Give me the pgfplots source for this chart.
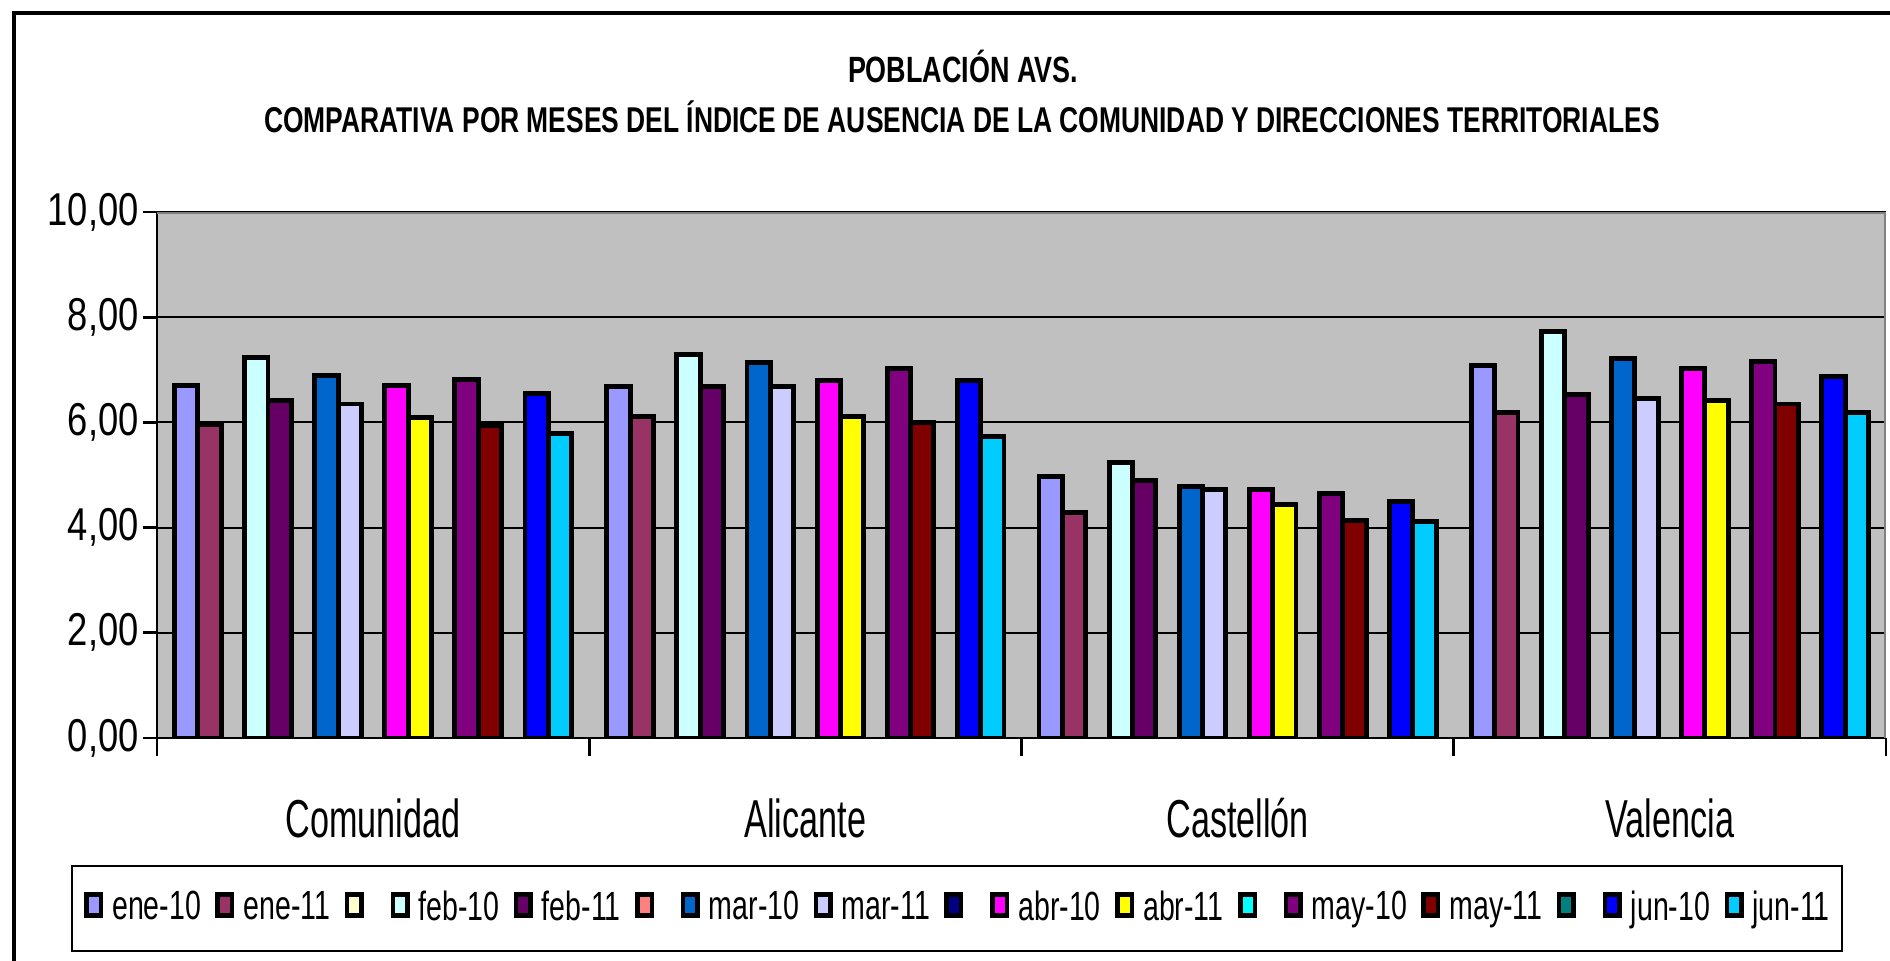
\documentclass[border=0pt]{standalone}
\usepackage{fontspec}
\setmainfont{Liberation Sans}
\newfontfamily\tickfont{Liberation Sans}[FakeStretch=0.79]
\newfontfamily\catfont{Liberation Sans}[FakeStretch=0.64]
\newfontfamily\legfont{Liberation Sans}[FakeStretch=0.70]
\newfontfamily\titlefont{Liberation Sans}[FakeStretch=0.737]
\usepackage{pgfplots}
\usepackage{pgfplotstable}
\pgfplotsset{compat=1.18}

\definecolor{plotgray}{HTML}{C0C0C0}
\definecolor{bordergray}{HTML}{808080}
\definecolor{cEneA}{HTML}{9999FF}
\definecolor{cEneB}{HTML}{993366}
\definecolor{cBlk1}{HTML}{FFFFCC}
\definecolor{cFebA}{HTML}{CCFFFF}
\definecolor{cFebB}{HTML}{660066}
\definecolor{cBlk2}{HTML}{FF8080}
\definecolor{cMarA}{HTML}{0066CC}
\definecolor{cMarB}{HTML}{CCCCFF}
\definecolor{cBlk3}{HTML}{000080}
\definecolor{cAbrA}{HTML}{FF00FF}
\definecolor{cAbrB}{HTML}{FFFF00}
\definecolor{cBlk4}{HTML}{00FFFF}
\definecolor{cMayA}{HTML}{800080}
\definecolor{cMayB}{HTML}{800000}
\definecolor{cBlk5}{HTML}{008080}
\definecolor{cJunA}{HTML}{0000FF}
\definecolor{cJunB}{HTML}{00CCFF}

% indice de ausencia por direccion territorial (0 Comunidad, 1 Alicante, 2 Castellon, 3 Valencia)
\pgfplotstableread{
x  e10  e11  f10  f11  m10  m11  a10  a11  y10  y11  j10  j11
0  6.70 5.95 7.23 6.42 6.89 6.35 6.70 6.09 6.81 5.94 6.55 5.79
1  6.69 6.12 7.29 6.69 7.14 6.69 6.79 6.12 7.03 6.00 6.79 5.74
2  4.97 4.28 5.24 4.90 4.78 4.72 4.72 4.44 4.64 4.14 4.49 4.11
3  7.08 6.19 7.72 6.53 7.22 6.45 7.03 6.41 7.15 6.35 6.88 6.19
}\datatable

\pgfplotsset{
  legsq/.style={legend image code/.code={
    \draw[fill=#1,draw=black,line width=0.045cm] (0.02cm,-0.075cm) rectangle (0.165cm,0.135cm);}},
  mybar/.style 2 args={ybar, bar width=0.054054, bar shift=#2,
    fill=#1, draw=black, line width=1.4pt, legsq=#1},
}

\begin{document}
\begin{tikzpicture}
\useasboundingbox (0,0) rectangle (18.9,9.6);
\draw[line width=1.2pt] (0.14,-0.2) -- (0.14,9.47) -- (19.1,9.47);

\node[anchor=base, font=\titlefont\bfseries\fontsize{10.4}{12}\selectfont] at (9.63,8.78) {POBLACIÓN AVS.};
\node[anchor=base, font=\titlefont\bfseries\fontsize{10.2}{12}\selectfont] at (9.62,8.28)
  {COMPARATIVA POR MESES DEL ÍNDICE DE AUSENCIA DE LA COMUNIDAD Y DIRECCIONES TERRITORIALES};

\begin{axis}[
  at={(1.57cm,2.22cm)}, anchor=south west,
  scale only axis, width=17.29cm, height=5.26cm,
  xmin=-0.5, xmax=3.5, ymin=0, ymax=10,
  axis background/.style={fill=plotgray},
  axis x line*=bottom, axis y line*=left,
  axis line style={black, line width=0.8pt, -},
  tick align=outside,
  xtick={0,1,2,3},
  xticklabels={Comunidad, Alicante, Castellón, Valencia},
  minor xtick={-0.5,0.5,1.5,2.5,3.5},
  major x tick style={draw=none},
  minor x tick style={black, line width=0.8pt},
  minor tick length=0.18cm,
  xticklabel style={font=\catfont\fontsize{15.2}{18}\selectfont, anchor=base, yshift=-0.85cm},
  ytick={0,2,4,6,8,10},
  major tick length=0.14cm,
  y tick style={black, line width=0.8pt},
  yticklabel={\pgfmathprintnumber[fixed,fixed zerofill,precision=2,use comma,assume math mode=true]{\tick}},
  yticklabel style={font=\tickfont\fontsize{13.1}{15}\selectfont, xshift=0.08cm},
  ymajorgrids,
  major grid style={black, line width=0.55pt},
  legend columns=17,
  legend cell align=left,
  legend style={at={(0.4627,-0.3235)}, anchor=center,
    draw=black, line width=0.6pt, fill=white,
    inner xsep=0.12cm, inner ysep=0.25cm,
    font=\legfont\fontsize{11.6}{13}\selectfont,
    nodes={inner sep=0pt},
    /tikz/every odd column/.append style={column sep=0.09cm},
    /tikz/every even column/.append style={column sep=0.144cm}},
]
\addplot[mybar={cEneA}{-0.43243}] table[x=x, y=e10] {\datatable};
\addlegendentry{ene-10}
\addplot[mybar={cEneB}{-0.37838}] table[x=x, y=e11] {\datatable};
\addlegendentry{ene-11}
\addlegendimage{legsq=cBlk1}
\addlegendentry{}
\addplot[mybar={cFebA}{-0.27027}] table[x=x, y=f10] {\datatable};
\addlegendentry{feb-10}
\addplot[mybar={cFebB}{-0.21622}] table[x=x, y=f11] {\datatable};
\addlegendentry{feb-11}
\addlegendimage{legsq=cBlk2}
\addlegendentry{}
\addplot[mybar={cMarA}{-0.10811}] table[x=x, y=m10] {\datatable};
\addlegendentry{mar-10}
\addplot[mybar={cMarB}{-0.05405}] table[x=x, y=m11] {\datatable};
\addlegendentry{mar-11}
\addlegendimage{legsq=cBlk3}
\addlegendentry{}
\addplot[mybar={cAbrA}{0.05405}] table[x=x, y=a10] {\datatable};
\addlegendentry{abr-10}
\addplot[mybar={cAbrB}{0.10811}] table[x=x, y=a11] {\datatable};
\addlegendentry{abr-11}
\addlegendimage{legsq=cBlk4}
\addlegendentry{}
\addplot[mybar={cMayA}{0.21622}] table[x=x, y=y10] {\datatable};
\addlegendentry{may-10}
\addplot[mybar={cMayB}{0.27027}] table[x=x, y=y11] {\datatable};
\addlegendentry{may-11}
\addlegendimage{legsq=cBlk5}
\addlegendentry{}
\addplot[mybar={cJunA}{0.37838}] table[x=x, y=j10] {\datatable};
\addlegendentry{jun-10}
\addplot[mybar={cJunB}{0.43243}] table[x=x, y=j11] {\datatable};
\addlegendentry{jun-11}
\draw[bordergray, line width=1pt] (rel axis cs:0,1) -- (rel axis cs:1,1) -- (rel axis cs:1,0);
\end{axis}
\end{tikzpicture}
\end{document}
